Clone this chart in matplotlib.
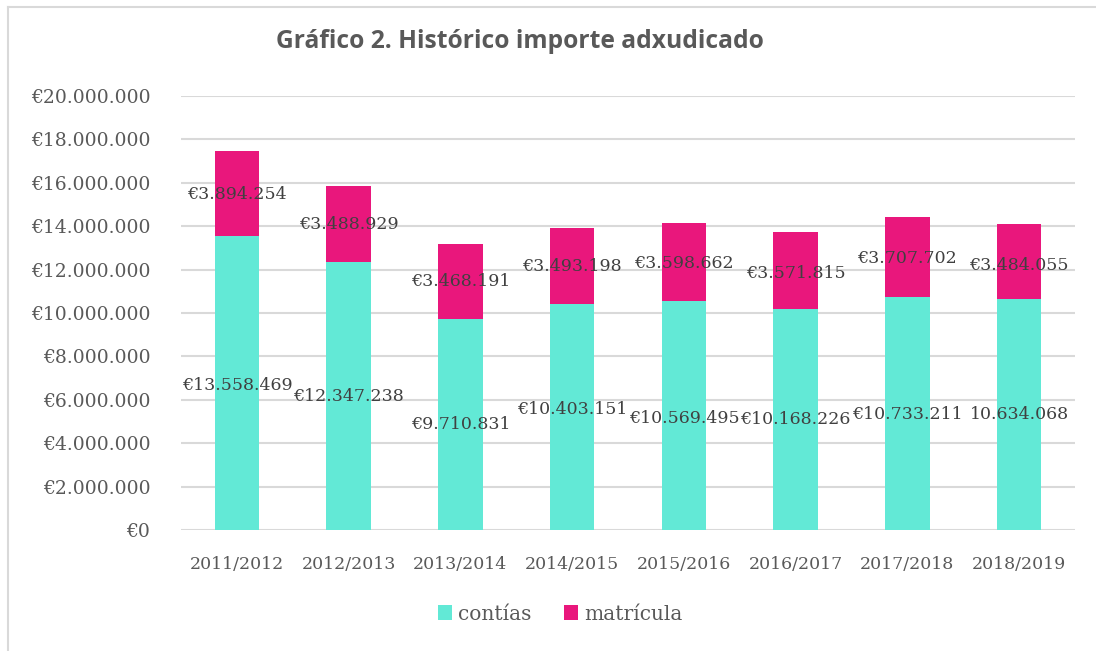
import matplotlib
matplotlib.use("Agg")
import matplotlib.pyplot as plt
from matplotlib.patches import Patch
from matplotlib.lines import Line2D

categories = ["2011/2012", "2012/2013", "2013/2014", "2014/2015",
              "2015/2016", "2016/2017", "2017/2018", "2018/2019"]
contias = [13558469, 12347238, 9710831, 10403151, 10569495, 10168226, 10733211, 10634068]
matricula = [3894254, 3488929, 3468191, 3493198, 3598662, 3571815, 3707702, 3484055]
contias_labels = ["€13.558.469", "€12.347.238", "€9.710.831", "€10.403.151",
                  "€10.569.495", "€10.168.226", "€10.733.211", "10.634.068"]
matricula_labels = ["€3.894.254", "€3.488.929", "€3.468.191", "€3.493.198",
                    "€3.598.662", "€3.571.815", "€3.707.702", "€3.484.055"]
# label placement (data units, as moved by hand in the original)
contias_label_y = [6.68e6, 6.13e6, 4.84e6, 5.53e6, 5.16e6, 5.07e6, 5.30e6, 5.30e6]
matricula_label_y = [15.44e6, 14.06e6, 11.43e6, 12.12e6, 12.30e6, 11.84e6, 12.53e6, 12.21e6]
yticks = list(range(0, 20000001, 2000000))

TEAL = "#62E9D6"
PINK = "#E9177C"
SERIF = ["DejaVu Serif"]

fig = plt.figure(figsize=(10.96, 6.51), dpi=100)
ax = fig.add_axes([181/1096, 1-530/651, (1075-181)/1096, (530-96)/651])

x = list(range(len(categories)))
ax.bar(x, contias, width=0.4, color=TEAL, zorder=3)
ax.bar(x, matricula, width=0.4, bottom=contias, color=PINK, zorder=3)

for i in x:
    ax.text(i, contias_label_y[i], contias_labels[i], ha="center", va="center",
            fontsize=12.5, color="#404040", family=SERIF, zorder=4)
    ax.text(i, matricula_label_y[i], matricula_labels[i], ha="center", va="center",
            fontsize=12.5, color="#404040", family=SERIF, zorder=4)

ax.set_xlim(-0.5, len(categories) - 0.5)
ax.set_ylim(0, 20000000)
ax.set_yticks(yticks)
ax.set_yticklabels(["€" + f"{v:,}".replace(",", ".") for v in yticks],
                   family=SERIF, fontsize=13.5, color="#595959")
ax.set_xticks(x)
ax.set_xticklabels(categories, family=SERIF, fontsize=12.5, color="#595959")
ax.tick_params(axis="both", length=0)
ax.tick_params(axis="y", pad=22)
ax.tick_params(axis="x", pad=19)
ax.grid(axis="y", color="#D9D9D9", linewidth=1.5, zorder=0)
ax.set_axisbelow(True)
for s in ax.spines.values():
    s.set_visible(False)

fig.text(520/1096, 1-41/651, "Gráfico 2. Histórico importe adxudicado",
         ha="center", va="center", fontsize=17.7, fontweight="bold",
         color="#595959", family=["Open Sans", "DejaVu Sans"])

handles = [Patch(facecolor=TEAL, label="contías"), Patch(facecolor=PINK, label="matrícula")]
fig.legend(handles=handles, loc="center", bbox_to_anchor=(560/1096, 1-614/651),
           ncol=2, frameon=False, prop={"family": SERIF, "size": 14.5},
           handlelength=0.7, handleheight=0.7, handletextpad=0.3, columnspacing=1.6,
           labelcolor="#595959")

# outer chart border (left and top visible)
fig.add_artist(Line2D([7.5/1096, 7.5/1096], [0, 1-6.5/651], transform=fig.transFigure,
                      color="#D9D9D9", linewidth=1.5))
fig.add_artist(Line2D([7.5/1096, 1], [1-6.5/651, 1-6.5/651], transform=fig.transFigure,
                      color="#D9D9D9", linewidth=1.5))

fig.savefig("out.png", dpi=100)
